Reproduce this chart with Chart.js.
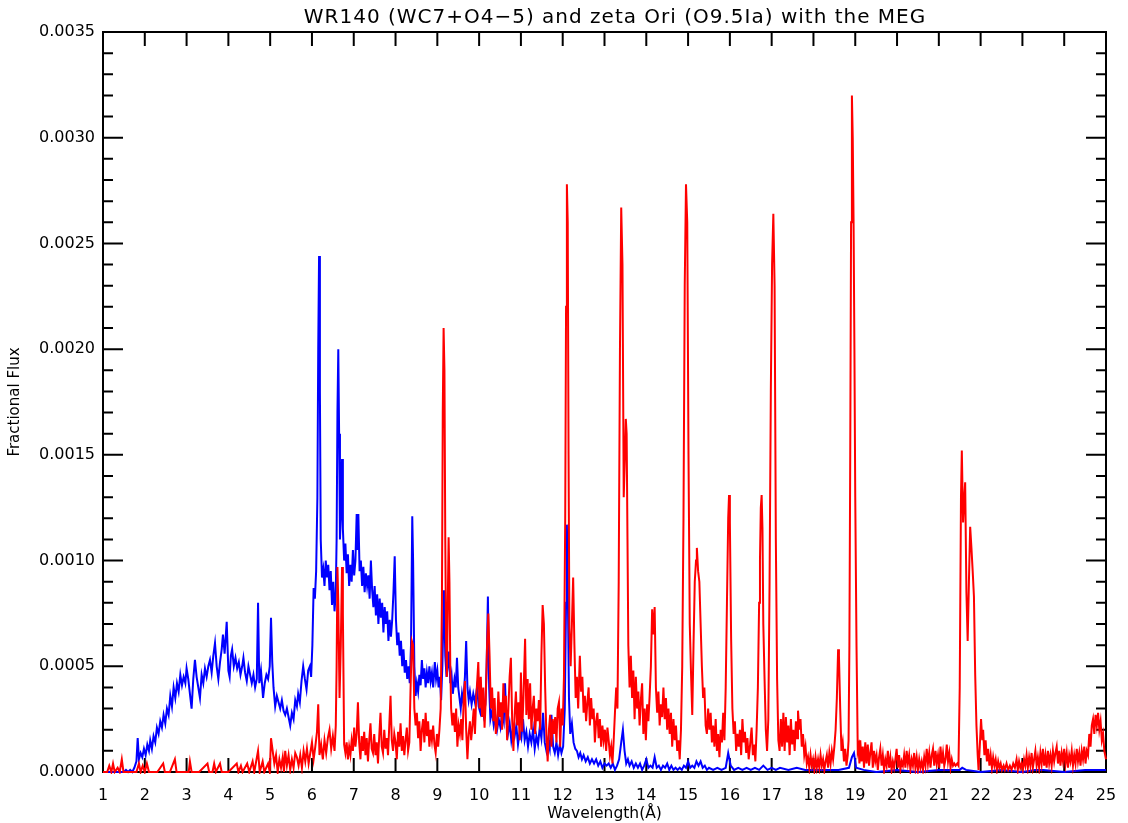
<!DOCTYPE html>
<html>
<head>
<meta charset="utf-8">
<title>WR140 and zeta Ori with the MEG</title>
<script src="https://cdn.jsdelivr.net/npm/chart.js@4.4.1/dist/chart.umd.min.js"></script>
<style>
  html, body { margin: 0; padding: 0; background: #fff; }
  canvas { display: block; }
</style>
</head>
<body>
<canvas id="spectrumChart" width="1128" height="823"></canvas>
<script>
// Axis ticks
const xTicks = [1, 2, 3, 4, 5, 6, 7, 8, 9, 10, 11, 12, 13, 14, 15, 16, 17, 18, 19, 20, 21, 22, 23, 24, 25];
const yTicks = [0, 0.0005, 0.0010, 0.0015, 0.0020, 0.0025, 0.0030, 0.0035];
const yTickLabels = ['0.0000', '0.0005', '0.0010', '0.0015', '0.0020', '0.0025', '0.0030', '0.0035'];
const chartTitle = 'WR140 (WC7+O4\u22125) and zeta Ori (O9.5Ia) with the MEG';

// WR140 (blue) - [wavelength (A), fractional flux]
const wr140 = [
  [1.00, 0], [1.50, 0], [1.55, 0.00001], [1.60, 0], [1.65, 0.00001], [1.70, 0], [1.75, 0.00002], [1.80, 0.00005],
  [1.83, 0.00016], [1.86, 0.00006], [1.90, 0.00009], [1.94, 0.00007], [1.98, 0.00011], [2.02, 0.00008], [2.06, 0.00013],
  [2.10, 0.00010], [2.13, 0.00015], [2.17, 0.00011], [2.21, 0.00017], [2.25, 0.00014], [2.29, 0.00021], [2.33, 0.00018],
  [2.37, 0.00024], [2.41, 0.00021], [2.45, 0.00027], [2.49, 0.00023], [2.53, 0.00030], [2.57, 0.00027], [2.61, 0.00036],
  [2.65, 0.00031], [2.69, 0.00040], [2.73, 0.00035], [2.77, 0.00042], [2.81, 0.00038], [2.85, 0.00046], [2.89, 0.00041],
  [2.93, 0.00045], [2.97, 0.00042], [3.00, 0.00049], [3.04, 0.00044], [3.08, 0.00037], [3.12, 0.00030], [3.16, 0.00044],
  [3.20, 0.00053], [3.24, 0.00045], [3.28, 0.00040], [3.32, 0.00035], [3.36, 0.00046], [3.40, 0.00042], [3.44, 0.00049],
  [3.48, 0.00045], [3.52, 0.00050], [3.56, 0.00053], [3.60, 0.00047], [3.64, 0.00055], [3.68, 0.00061], [3.72, 0.00050],
  [3.76, 0.00044], [3.80, 0.00052], [3.84, 0.00058], [3.87, 0.00065], [3.91, 0.00056], [3.96, 0.00071], [4.00, 0.00048],
  [4.03, 0.00045], [4.06, 0.00055], [4.09, 0.00058], [4.13, 0.00050], [4.17, 0.00054], [4.21, 0.00049], [4.25, 0.00052],
  [4.29, 0.00046], [4.33, 0.00050], [4.36, 0.00054], [4.40, 0.00047], [4.44, 0.00043], [4.48, 0.00050], [4.52, 0.00046],
  [4.56, 0.00042], [4.60, 0.00046], [4.64, 0.00040], [4.68, 0.00044], [4.71, 0.00080], [4.74, 0.00042], [4.78, 0.00048],
  [4.83, 0.00035], [4.87, 0.00042], [4.91, 0.00046], [4.95, 0.00044], [4.99, 0.00050], [5.02, 0.00073], [5.05, 0.00052],
  [5.08, 0.00040], [5.12, 0.00031], [5.16, 0.00036], [5.20, 0.00033], [5.24, 0.00030], [5.28, 0.00034], [5.32, 0.00029],
  [5.36, 0.00027], [5.40, 0.00030], [5.44, 0.00026], [5.48, 0.00022], [5.52, 0.00028], [5.56, 0.00025], [5.60, 0.00034],
  [5.64, 0.00031], [5.67, 0.00037], [5.71, 0.00033], [5.75, 0.00043], [5.79, 0.00050], [5.83, 0.00044], [5.87, 0.00039],
  [5.91, 0.00048], [5.95, 0.00050], [5.98, 0.00045], [6.01, 0.00060], [6.04, 0.00087], [6.07, 0.00082], [6.10, 0.00095],
  [6.13, 0.00130], [6.15, 0.00200], [6.17, 0.00244], [6.19, 0.00180], [6.21, 0.00110], [6.24, 0.00092], [6.27, 0.00096],
  [6.30, 0.00088], [6.33, 0.00100], [6.36, 0.00092], [6.39, 0.00098], [6.42, 0.00086], [6.45, 0.00095], [6.48, 0.00079],
  [6.51, 0.00090], [6.54, 0.00076], [6.57, 0.00085], [6.59, 0.00110], [6.61, 0.00170], [6.63, 0.00200], [6.65, 0.00160],
  [6.67, 0.00110], [6.69, 0.00120], [6.72, 0.00148], [6.74, 0.00115], [6.77, 0.00100], [6.80, 0.00108], [6.83, 0.00094],
  [6.86, 0.00103], [6.89, 0.00088], [6.92, 0.00098], [6.95, 0.00090], [6.98, 0.00105], [7.01, 0.00093], [7.04, 0.00100],
  [7.07, 0.00122], [7.09, 0.00105], [7.11, 0.00122], [7.14, 0.00095], [7.17, 0.00100], [7.20, 0.00088], [7.23, 0.00097],
  [7.26, 0.00085], [7.29, 0.00094], [7.32, 0.00088], [7.35, 0.00093], [7.38, 0.00082], [7.41, 0.00100], [7.44, 0.00086],
  [7.47, 0.00078], [7.50, 0.00088], [7.53, 0.00074], [7.56, 0.00084], [7.59, 0.00070], [7.62, 0.00082], [7.65, 0.00073],
  [7.68, 0.00080], [7.71, 0.00066], [7.74, 0.00078], [7.77, 0.00070], [7.80, 0.00076], [7.83, 0.00062], [7.86, 0.00072],
  [7.89, 0.00064], [7.92, 0.00072], [7.95, 0.00085], [7.98, 0.00102], [8.01, 0.00072], [8.04, 0.00060], [8.07, 0.00066],
  [8.10, 0.00055], [8.13, 0.00062], [8.16, 0.00050], [8.19, 0.00058], [8.22, 0.00047], [8.25, 0.00053], [8.28, 0.00044],
  [8.31, 0.00050], [8.34, 0.00042], [8.37, 0.00060], [8.40, 0.00121], [8.42, 0.00100], [8.45, 0.00050], [8.48, 0.00036],
  [8.51, 0.00042], [8.54, 0.00038], [8.57, 0.00046], [8.60, 0.00041], [8.63, 0.00053], [8.66, 0.00044], [8.69, 0.00049],
  [8.72, 0.00040], [8.75, 0.00047], [8.78, 0.00042], [8.81, 0.00050], [8.84, 0.00043], [8.87, 0.00047], [8.90, 0.00040],
  [8.94, 0.00052], [8.97, 0.00044], [9.00, 0.00048], [9.03, 0.00040], [9.06, 0.00045], [9.09, 0.00034], [9.12, 0.00050],
  [9.16, 0.00086], [9.19, 0.00055], [9.22, 0.00045], [9.25, 0.00050], [9.28, 0.00057], [9.31, 0.00042], [9.34, 0.00046],
  [9.37, 0.00037], [9.41, 0.00044], [9.44, 0.00040], [9.47, 0.00054], [9.50, 0.00040], [9.53, 0.00035], [9.56, 0.00030],
  [9.59, 0.00037], [9.62, 0.00033], [9.66, 0.00045], [9.69, 0.00062], [9.72, 0.00040], [9.75, 0.00034], [9.78, 0.00038],
  [9.82, 0.00032], [9.86, 0.00037], [9.90, 0.00033], [9.95, 0.00040], [9.99, 0.00031], [10.03, 0.00028], [10.07, 0.00033],
  [10.11, 0.00027], [10.15, 0.00032], [10.18, 0.00050], [10.21, 0.00083], [10.24, 0.00040], [10.27, 0.00025], [10.31, 0.00029],
  [10.35, 0.00022], [10.39, 0.00026], [10.43, 0.00020], [10.47, 0.00025], [10.51, 0.00021], [10.55, 0.00028], [10.59, 0.00024],
  [10.62, 0.00042], [10.65, 0.00025], [10.69, 0.00018], [10.73, 0.00023], [10.77, 0.00015], [10.81, 0.00021], [10.85, 0.00017],
  [10.89, 0.00022], [10.93, 0.00013], [10.97, 0.00019], [11.01, 0.00016], [11.05, 0.00025], [11.09, 0.00015], [11.13, 0.00019],
  [11.17, 0.00012], [11.21, 0.00018], [11.25, 0.00014], [11.29, 0.00020], [11.33, 0.00011], [11.37, 0.00017], [11.41, 0.00013],
  [11.45, 0.00021], [11.49, 0.00016], [11.53, 0.00028], [11.57, 0.00014], [11.61, 0.00010], [11.65, 0.00015], [11.69, 0.00011],
  [11.73, 0.00027], [11.77, 0.00012], [11.81, 0.00009], [11.85, 0.00014], [11.89, 0.00008], [11.93, 0.00013], [11.97, 0.00009],
  [12.01, 0.00012], [12.05, 0.00030], [12.08, 0.00080], [12.10, 0.00117], [12.12, 0.00090], [12.15, 0.00035], [12.18, 0.00018],
  [12.22, 0.00023], [12.26, 0.00014], [12.30, 0.00011], [12.34, 0.00010], [12.38, 0.00007], [12.42, 0.00009], [12.46, 0.00006],
  [12.50, 0.00008], [12.55, 0.00005], [12.60, 0.00007], [12.65, 0.00004], [12.70, 0.00006], [12.75, 0.00004], [12.80, 0.00006],
  [12.85, 0.00003], [12.90, 0.00005], [12.95, 0.00002], [13.00, 0.00004], [13.05, 0.00003], [13.10, 0.00004], [13.15, 0.00002],
  [13.20, 0.00004], [13.25, 0.00001], [13.30, 0.00003], [13.35, 0.00006], [13.40, 0.00014], [13.44, 0.00020], [13.48, 0.00010],
  [13.52, 0.00004], [13.56, 0.00006], [13.60, 0.00003], [13.65, 0.00005], [13.70, 0.00002], [13.75, 0.00004], [13.80, 0.00002],
  [13.85, 0.00004], [13.90, 0.00001], [13.95, 0.00003], [14.00, 0.00006], [14.05, 0.00002], [14.10, 0.00003], [14.15, 0.00002],
  [14.20, 0.00007], [14.25, 0.00002], [14.30, 0.00003], [14.35, 0.00001], [14.40, 0.00003], [14.45, 0.00002], [14.50, 0.00004],
  [14.55, 0.00001], [14.60, 0.00003], [14.65, 0.00001], [14.70, 0.00002], [14.75, 0.00001], [14.80, 0.00002], [14.85, 0.00001],
  [14.90, 0.00003], [14.95, 0.00002], [15.00, 0.00005], [15.05, 0.00002], [15.10, 0.00003], [15.15, 0.00002], [15.20, 0.00005],
  [15.25, 0.00003], [15.30, 0.00005], [15.35, 0.00002], [15.40, 0.00003], [15.45, 0.00001], [15.50, 0.00002], [15.60, 0.00001],
  [15.70, 0.00002], [15.80, 0.00001], [15.90, 0.00002], [15.96, 0.00009], [16.02, 0.00003], [16.10, 0.00001], [16.20, 0.00002],
  [16.30, 0.00001], [16.40, 0.00002], [16.50, 0.00001], [16.60, 0.00002], [16.70, 0.00001], [16.80, 0.00003], [16.90, 0.00001],
  [17.00, 0.00002], [17.10, 0.00001], [17.20, 0.00002], [17.40, 0.00001], [17.60, 0.00002], [17.80, 0.00001], [18.00, 0.00001],
  [18.30, 0.00001], [18.60, 0.00001], [18.85, 0.00002], [18.92, 0.00007], [18.97, 0.00009], [19.02, 0.00002], [19.20, 0.00001],
  [19.50, 0], [20.00, 0.00001], [20.50, 0], [21.00, 0.00001], [21.50, 0.00001], [21.56, 0.00002], [21.65, 0.00001], [22.00, 0],
  [22.50, 0.00001], [23.00, 0], [23.30, 0.00001], [23.50, 0.00001], [24.00, 0], [24.50, 0.00001], [24.80, 0.00001], [25.00, 0.00001]
];

// zeta Ori (red) - [wavelength (A), fractional flux]
const zetaOri = [
  [1.00, 0], [1.10, 0], [1.15, 0.00003], [1.20, 0], [1.24, 0.00004], [1.28, 0], [1.35, 0.00002], [1.40, 0], [1.45, 0.00006],
  [1.49, 0], [1.60, 0], [1.70, 0], [1.80, 0], [1.86, 0.00004], [1.90, 0], [1.95, 0.00003], [2.00, 0], [2.05, 0.00004], [2.10, 0],
  [2.20, 0], [2.30, 0], [2.44, 0.00004], [2.48, 0], [2.60, 0], [2.72, 0.00006], [2.76, 0], [2.90, 0], [3.05, 0], [3.08, 0.00005],
  [3.12, 0], [3.30, 0], [3.50, 0.00004], [3.54, 0], [3.62, 0], [3.66, 0.00004], [3.70, 0], [3.80, 0.00004], [3.84, 0], [4.00, 0],
  [4.20, 0.00004], [4.24, 0], [4.30, 0.00003], [4.34, 0], [4.45, 0.00004], [4.50, 0], [4.58, 0.00005], [4.62, 0], [4.71, 0.00010],
  [4.75, 0], [4.82, 0.00005], [4.86, 0], [4.95, 0.00004], [4.99, 0], [5.02, 0.00016], [5.06, 0.00010], [5.10, 0.00004],
  [5.14, 0.00008], [5.18, 0], [5.22, 0.00006], [5.26, 0.00002], [5.30, 0.00007], [5.33, 0], [5.36, 0.00010], [5.40, 0.00003],
  [5.44, 0.00008], [5.48, 0.00001], [5.52, 0.00006], [5.56, 0.00002], [5.60, 0.00009], [5.64, 0.00007], [5.68, 0.00003],
  [5.72, 0.00008], [5.76, 0.00002], [5.80, 0.00010], [5.84, 0.00005], [5.88, 0.00011], [5.92, 0.00004], [5.96, 0.00009],
  [6.00, 0.00014], [6.04, 0.00006], [6.08, 0.00012], [6.12, 0.00019], [6.15, 0.00032], [6.18, 0.00008], [6.22, 0.00013],
  [6.26, 0.00006], [6.30, 0.00015], [6.34, 0.00009], [6.38, 0.00016], [6.42, 0.00020], [6.46, 0.00011], [6.50, 0.00017],
  [6.54, 0.00010], [6.57, 0.00022], [6.59, 0.00050], [6.61, 0.00097], [6.63, 0.00080], [6.66, 0.00035], [6.69, 0.00060],
  [6.72, 0.00097], [6.74, 0.00075], [6.77, 0.00013], [6.80, 0.00009], [6.83, 0.00014], [6.86, 0.00006], [6.89, 0.00012],
  [6.92, 0.00008], [6.95, 0.00015], [6.98, 0.00010], [7.01, 0.00021], [7.04, 0.00012], [7.07, 0.00018], [7.10, 0.00033],
  [7.13, 0.00014], [7.16, 0.00006], [7.19, 0.00017], [7.22, 0.00010], [7.25, 0.00019], [7.28, 0.00008], [7.31, 0.00016],
  [7.34, 0.00005], [7.37, 0.00015], [7.40, 0.00023], [7.43, 0.00011], [7.46, 0.00009], [7.49, 0.00018], [7.52, 0.00008],
  [7.55, 0.00014], [7.58, 0.00004], [7.61, 0.00017], [7.64, 0.00028], [7.67, 0.00012], [7.70, 0.00009], [7.73, 0.00020],
  [7.76, 0.00011], [7.79, 0.00016], [7.82, 0.00008], [7.85, 0.00022], [7.88, 0.00036], [7.91, 0.00015], [7.94, 0.00010],
  [7.97, 0.00018], [8.00, 0.00014], [8.03, 0.00006], [8.06, 0.00019], [8.09, 0.00012], [8.12, 0.00023], [8.15, 0.00010],
  [8.18, 0.00017], [8.21, 0.00008], [8.24, 0.00015], [8.27, 0.00021], [8.30, 0.00010], [8.33, 0.00014], [8.36, 0.00040],
  [8.39, 0.00062], [8.42, 0.00060], [8.45, 0.00030], [8.48, 0.00022], [8.51, 0.00028], [8.54, 0.00016], [8.57, 0.00024],
  [8.60, 0.00010], [8.63, 0.00020], [8.66, 0.00025], [8.69, 0.00014], [8.72, 0.00028], [8.75, 0.00017], [8.78, 0.00024],
  [8.81, 0.00012], [8.84, 0.00020], [8.87, 0.00015], [8.90, 0.00022], [8.93, 0.00013], [8.96, 0.00009], [8.99, 0.00018],
  [9.02, 0.00012], [9.05, 0.00020], [9.08, 0.00030], [9.11, 0.00080], [9.13, 0.00170], [9.15, 0.00210], [9.17, 0.00190],
  [9.19, 0.00110], [9.21, 0.00060], [9.23, 0.00045], [9.25, 0.00080], [9.27, 0.00111], [9.29, 0.00090], [9.31, 0.00050],
  [9.33, 0.00030], [9.36, 0.00022], [9.39, 0.00028], [9.42, 0.00019], [9.45, 0.00030], [9.48, 0.00012], [9.51, 0.00022],
  [9.54, 0.00018], [9.57, 0.00025], [9.60, 0.00015], [9.63, 0.00034], [9.66, 0.00043], [9.69, 0.00020], [9.72, 0.00006],
  [9.75, 0.00018], [9.78, 0.00024], [9.81, 0.00015], [9.84, 0.00022], [9.87, 0.00030], [9.90, 0.00018], [9.93, 0.00035],
  [9.96, 0.00045], [9.98, 0.00052], [10.01, 0.00030], [10.04, 0.00045], [10.07, 0.00026], [10.10, 0.00040], [10.13, 0.00021],
  [10.16, 0.00035], [10.19, 0.00060], [10.22, 0.00075], [10.25, 0.00055], [10.28, 0.00030], [10.31, 0.00040], [10.34, 0.00024],
  [10.37, 0.00035], [10.40, 0.00018], [10.43, 0.00022], [10.46, 0.00038], [10.49, 0.00026], [10.52, 0.00033], [10.55, 0.00020],
  [10.58, 0.00042], [10.61, 0.00028], [10.64, 0.00036], [10.67, 0.00015], [10.70, 0.00030], [10.73, 0.00045], [10.76, 0.00054],
  [10.79, 0.00025], [10.82, 0.00010], [10.85, 0.00027], [10.88, 0.00038], [10.91, 0.00022], [10.94, 0.00033], [10.97, 0.00015],
  [11.00, 0.00047], [11.03, 0.00019], [11.06, 0.00035], [11.10, 0.00063], [11.13, 0.00027], [11.16, 0.00044], [11.19, 0.00025],
  [11.22, 0.00042], [11.25, 0.00020], [11.28, 0.00030], [11.31, 0.00036], [11.34, 0.00018], [11.37, 0.00030], [11.40, 0.00024],
  [11.43, 0.00034], [11.46, 0.00020], [11.49, 0.00055], [11.52, 0.00079], [11.55, 0.00070], [11.58, 0.00040], [11.61, 0.00017],
  [11.64, 0.00005], [11.67, 0.00020], [11.70, 0.00027], [11.73, 0.00012], [11.76, 0.00025], [11.79, 0.00018], [11.82, 0.00026],
  [11.85, 0.00014], [11.88, 0.00030], [11.91, 0.00033], [11.94, 0.00012], [11.97, 0.00030], [12.00, 0.00022], [12.03, 0.00045],
  [12.06, 0.00120], [12.08, 0.00220], [12.10, 0.00278], [12.12, 0.00260], [12.14, 0.00150], [12.16, 0.00068], [12.19, 0.00050],
  [12.22, 0.00070], [12.25, 0.00092], [12.28, 0.00060], [12.31, 0.00035], [12.34, 0.00045], [12.37, 0.00030], [12.41, 0.00055],
  [12.44, 0.00038], [12.47, 0.00045], [12.50, 0.00028], [12.53, 0.00036], [12.56, 0.00024], [12.59, 0.00033], [12.62, 0.00040],
  [12.65, 0.00022], [12.68, 0.00035], [12.71, 0.00025], [12.74, 0.00030], [12.77, 0.00014], [12.80, 0.00024], [12.83, 0.00028],
  [12.86, 0.00016], [12.89, 0.00025], [12.92, 0.00012], [12.95, 0.00022], [12.98, 0.00015], [13.01, 0.00020], [13.04, 0.00010],
  [13.07, 0.00021], [13.10, 0.00015], [13.13, 0.00008], [13.16, 0.00012], [13.19, 0.00004], [13.22, 0.00015], [13.25, 0.00028],
  [13.28, 0.00040], [13.31, 0.00030], [13.34, 0.00090], [13.37, 0.00200], [13.40, 0.00267], [13.43, 0.00240], [13.46, 0.00130],
  [13.49, 0.00150], [13.51, 0.00167], [13.53, 0.00160], [13.55, 0.00110], [13.57, 0.00060], [13.60, 0.00040], [13.63, 0.00055],
  [13.66, 0.00035], [13.69, 0.00048], [13.72, 0.00025], [13.75, 0.00045], [13.78, 0.00030], [13.81, 0.00038], [13.84, 0.00022],
  [13.87, 0.00034], [13.90, 0.00042], [13.93, 0.00018], [13.96, 0.00030], [13.99, 0.00015], [14.02, 0.00032], [14.05, 0.00024],
  [14.08, 0.00036], [14.11, 0.00050], [14.14, 0.00077], [14.17, 0.00065], [14.20, 0.00078], [14.23, 0.00040], [14.26, 0.00028],
  [14.29, 0.00038], [14.32, 0.00022], [14.35, 0.00032], [14.38, 0.00026], [14.41, 0.00040], [14.44, 0.00025], [14.47, 0.00035],
  [14.50, 0.00020], [14.53, 0.00030], [14.56, 0.00018], [14.59, 0.00028], [14.62, 0.00012], [14.65, 0.00025], [14.68, 0.00015],
  [14.71, 0.00022], [14.74, 0.00010], [14.77, 0.00015], [14.80, 0.00006], [14.83, 0.00020], [14.86, 0.00050], [14.89, 0.00120],
  [14.92, 0.00230], [14.95, 0.00278], [14.98, 0.00260], [15.01, 0.00150], [15.04, 0.00070], [15.07, 0.00047], [15.10, 0.00027],
  [15.13, 0.00060], [15.16, 0.00090], [15.19, 0.00100], [15.21, 0.00106], [15.24, 0.00095], [15.27, 0.00090], [15.30, 0.00070],
  [15.33, 0.00050], [15.36, 0.00035], [15.39, 0.00040], [15.42, 0.00022], [15.45, 0.00018], [15.48, 0.00030], [15.51, 0.00020],
  [15.54, 0.00028], [15.57, 0.00014], [15.60, 0.00022], [15.63, 0.00012], [15.66, 0.00025], [15.69, 0.00010], [15.72, 0.00018],
  [15.75, 0.00007], [15.78, 0.00020], [15.81, 0.00014], [15.84, 0.00028], [15.87, 0.00015], [15.90, 0.00040], [15.93, 0.00080],
  [15.96, 0.00120], [15.98, 0.00131], [16.00, 0.00118], [16.03, 0.00063], [16.06, 0.00030], [16.09, 0.00018], [16.12, 0.00024],
  [16.15, 0.00010], [16.18, 0.00018], [16.21, 0.00012], [16.24, 0.00020], [16.27, 0.00008], [16.30, 0.00025], [16.33, 0.00014],
  [16.36, 0.00019], [16.39, 0.00009], [16.42, 0.00016], [16.45, 0.00006], [16.48, 0.00012], [16.52, 0.00021], [16.55, 0.00008],
  [16.58, 0.00013], [16.61, 0.00005], [16.64, 0.00020], [16.67, 0.00040], [16.70, 0.00080], [16.72, 0.00100], [16.74, 0.00125],
  [16.76, 0.00131], [16.78, 0.00115], [16.80, 0.00070], [16.83, 0.00044], [16.86, 0.00020], [16.89, 0.00010], [16.92, 0.00025],
  [16.95, 0.00090], [16.98, 0.00180], [17.01, 0.00240], [17.04, 0.00264], [17.07, 0.00230], [17.10, 0.00110], [17.13, 0.00044],
  [17.16, 0.00015], [17.19, 0.00010], [17.22, 0.00025], [17.25, 0.00012], [17.28, 0.00028], [17.31, 0.00010], [17.34, 0.00026],
  [17.37, 0.00014], [17.40, 0.00022], [17.43, 0.00008], [17.46, 0.00025], [17.49, 0.00013], [17.52, 0.00020], [17.55, 0.00010],
  [17.58, 0.00024], [17.61, 0.00016], [17.63, 0.00029], [17.66, 0.00020], [17.69, 0.00025], [17.72, 0.00012], [17.75, 0.00018],
  [17.78, 0.00008], [17.81, 0.00012], [17.84, 0.00004], [17.87, 0.00007], [17.90, 0.00002], [17.93, 0.00008], [17.96, 0.00003],
  [17.99, 0.00006], [18.02, 0.00001], [18.05, 0.00007], [18.08, 0.00002], [18.11, 0.00006], [18.14, 0.00002], [18.17, 0.00008],
  [18.20, 0.00003], [18.23, 0.00006], [18.26, 0.00001], [18.29, 0.00005], [18.32, 0.00008], [18.35, 0.00002], [18.38, 0.00009],
  [18.41, 0.00004], [18.44, 0.00010], [18.47, 0.00006], [18.50, 0.00012], [18.53, 0.00020], [18.56, 0.00035], [18.59, 0.00058],
  [18.61, 0.00055], [18.64, 0.00030], [18.67, 0.00010], [18.70, 0.00014], [18.73, 0.00005], [18.76, 0.00011], [18.79, 0.00003],
  [18.82, 0.00008], [18.84, 0.00015], [18.86, 0.00060], [18.88, 0.00150], [18.90, 0.00260], [18.92, 0.00320], [18.94, 0.00300],
  [18.96, 0.00260], [18.98, 0.00200], [19.00, 0.00130], [19.03, 0.00060], [19.06, 0.00010], [19.08, 0.00012], [19.10, 0.00004],
  [19.12, 0.00015], [19.15, 0.00005], [19.18, 0.00012], [19.21, 0.00002], [19.24, 0.00014], [19.27, 0.00004], [19.30, 0.00013],
  [19.33, 0.00003], [19.36, 0.00009], [19.39, 0.00014], [19.42, 0.00002], [19.45, 0.00010], [19.48, 0.00005], [19.51, 0.00008],
  [19.54, 0.00001], [19.57, 0.00007], [19.60, 0.00011], [19.63, 0.00003], [19.66, 0.00008], [19.69, 0.00001], [19.72, 0.00006],
  [19.75, 0.00003], [19.78, 0.00010], [19.81, 0.00002], [19.84, 0.00007], [19.87, 0.00001], [19.90, 0.00005], [19.93, 0.00002],
  [19.96, 0.00006], [19.99, 0.00011], [20.02, 0.00002], [20.05, 0.00008], [20.08, 0.00001], [20.11, 0.00005], [20.14, 0.00003],
  [20.17, 0.00008], [20.20, 0.00002], [20.23, 0.00010], [20.26, 0.00004], [20.29, 0.00008], [20.32, 0.00001], [20.35, 0.00006],
  [20.38, 0.00003], [20.41, 0.00009], [20.44, 0.00002], [20.47, 0.00007], [20.50, 0.00001], [20.53, 0.00006], [20.56, 0.00002],
  [20.59, 0.00005], [20.62, 0.00001], [20.65, 0.00007], [20.68, 0.00003], [20.71, 0.00011], [20.74, 0.00004], [20.77, 0.00009],
  [20.80, 0.00002], [20.83, 0.00008], [20.86, 0.00011], [20.89, 0.00003], [20.92, 0.00010], [20.95, 0.00004], [20.98, 0.00008],
  [21.01, 0.00002], [21.04, 0.00012], [21.07, 0.00004], [21.10, 0.00009], [21.13, 0.00003], [21.16, 0.00006], [21.19, 0.00013],
  [21.22, 0.00005], [21.25, 0.00009], [21.28, 0.00002], [21.31, 0.00006], [21.34, 0.00003], [21.37, 0.00004], [21.40, 0.00003],
  [21.44, 0.00004], [21.47, 0.00003], [21.50, 0.00040], [21.53, 0.00130], [21.55, 0.00152], [21.58, 0.00118], [21.61, 0.00130],
  [21.63, 0.00137], [21.66, 0.00085], [21.69, 0.00062], [21.72, 0.00090], [21.75, 0.00116], [21.78, 0.00106], [21.81, 0.00095],
  [21.84, 0.00083], [21.87, 0.00046], [21.90, 0.00022], [21.93, 0.00008], [21.95, 0.00001], [21.98, 0.00012], [22.01, 0.00025],
  [22.04, 0.00015], [22.06, 0.00020], [22.09, 0.00008], [22.12, 0.00015], [22.15, 0.00005], [22.18, 0.00011], [22.21, 0.00003],
  [22.24, 0.00008], [22.27, 0.00002], [22.30, 0.00007], [22.33, 0.00003], [22.36, 0.00006], [22.39, 0.00001], [22.42, 0.00005],
  [22.45, 0.00002], [22.48, 0.00004], [22.51, 0.00001], [22.55, 0.00003], [22.58, 0.00001], [22.62, 0.00004], [22.66, 0.00001],
  [22.70, 0.00003], [22.74, 0.00001], [22.78, 0.00004], [22.82, 0.00002], [22.86, 0.00006], [22.89, 0.00001], [22.92, 0.00005],
  [22.95, 0.00002], [22.98, 0.00004], [23.01, 0.00001], [23.04, 0.00006], [23.07, 0.00003], [23.10, 0.00008], [23.13, 0.00002],
  [23.16, 0.00007], [23.19, 0.00003], [23.22, 0.00009], [23.25, 0.00002], [23.28, 0.00006], [23.31, 0.00010], [23.34, 0.00003],
  [23.37, 0.00007], [23.40, 0.00002], [23.43, 0.00009], [23.46, 0.00004], [23.49, 0.00011], [23.52, 0.00003], [23.55, 0.00008],
  [23.58, 0.00002], [23.61, 0.00010], [23.64, 0.00004], [23.67, 0.00008], [23.70, 0.00003], [23.73, 0.00010], [23.76, 0.00005],
  [23.79, 0.00009], [23.82, 0.00012], [23.85, 0.00004], [23.88, 0.00010], [23.91, 0.00003], [23.94, 0.00009], [23.97, 0.00005],
  [24.00, 0.00011], [24.03, 0.00004], [24.06, 0.00009], [24.09, 0.00002], [24.12, 0.00008], [24.15, 0.00005], [24.18, 0.00010],
  [24.21, 0.00003], [24.24, 0.00008], [24.27, 0.00004], [24.30, 0.00011], [24.33, 0.00005], [24.36, 0.00009], [24.39, 0.00003],
  [24.42, 0.00010], [24.45, 0.00006], [24.48, 0.00012], [24.51, 0.00004], [24.54, 0.00010], [24.57, 0.00008], [24.60, 0.00018],
  [24.63, 0.00012], [24.66, 0.00022], [24.69, 0.00025], [24.72, 0.00018], [24.75, 0.00027], [24.78, 0.00022], [24.81, 0.00028],
  [24.84, 0.00020], [24.87, 0.00024], [24.90, 0.00015], [24.93, 0.00018], [24.96, 0.00010], [25.00, 0.00006]
];

const FONT = "'DejaVu Sans', sans-serif";

// Box frame with inward ticks (IDL style), plus the title
const idlFrame = {
    id: 'idlFrame',
    beforeDatasetsDraw(chart) {
        const { ctx, chartArea: a, scales } = chart;
        const xs = scales.x, ys = scales.y;
        ctx.save();
        ctx.strokeStyle = '#000';
        ctx.lineWidth = 2;
        ctx.strokeRect(a.left, a.top, a.right - a.left, a.bottom - a.top);
        ctx.beginPath();
        xTicks.forEach(v => {
            const px = xs.getPixelForValue(v);
            ctx.moveTo(px, a.bottom); ctx.lineTo(px, a.bottom - 14);
            ctx.moveTo(px, a.top); ctx.lineTo(px, a.top + 14);
        });
        for (let i = 0; i <= 35; i++) {
            const py = ys.getPixelForValue(i * 0.0001);
            const len = (i % 5 === 0) ? 20 : 10;
            ctx.moveTo(a.left, py); ctx.lineTo(a.left + len, py);
            ctx.moveTo(a.right, py); ctx.lineTo(a.right - len, py);
        }
        ctx.stroke();
        ctx.restore();
    },
    afterDraw(chart) {
        const ctx = chart.ctx;
        ctx.save();
        ctx.fillStyle = '#000';
        ctx.font = '20px ' + FONT;
        ctx.letterSpacing = '1px';
        ctx.textAlign = 'center';
        ctx.textBaseline = 'alphabetic';
        ctx.fillText(chartTitle, 615, 23);
        ctx.restore();
    }
};

const ctx = document.getElementById('spectrumChart').getContext('2d');
const spectrumChart = new Chart(ctx, {
    type: 'line',
    data: {
        datasets: [{
            label: 'zeta Ori (O9.5Ia)',
            data: zetaOri.map(p => ({ x: p[0], y: p[1] })),
            borderColor: '#ff0000',
            borderWidth: 2,
            pointRadius: 0,
            tension: 0,
            order: 1,
            clip: 2
        }, {
            label: 'WR140 (WC7+O4-5)',
            data: wr140.map(p => ({ x: p[0], y: p[1] })),
            borderColor: '#0000ff',
            borderWidth: 2,
            pointRadius: 0,
            tension: 0,
            order: 2,
            clip: 2
        }]
    },
    options: {
        responsive: false,
        animation: false,
        layout: { padding: { left: 0, right: 0, top: 32, bottom: 0 } },
        plugins: {
            legend: { display: false },
            tooltip: { enabled: false },
            title: { display: false }
        },
        scales: {
            x: {
                type: 'linear',
                min: 1,
                max: 25,
                afterBuildTicks: s => { s.ticks = xTicks.map(v => ({ value: v })); },
                afterFit: s => { s.height = 51; s.paddingRight = 22; s.paddingLeft = 0; },
                grid: { display: false, drawTicks: false },
                border: { display: false },
                ticks: {
                    color: '#000',
                    font: { family: FONT, size: 16 },
                    padding: 14,
                    maxRotation: 0,
                    autoSkip: false
                },
                title: {
                    display: true,
                    text: 'Wavelength(\u00c5)',
                    color: '#000',
                    font: { family: FONT, size: 15.5 },
                    padding: { top: 0, bottom: 0 }
                }
            },
            y: {
                type: 'linear',
                min: 0,
                max: 0.0035,
                afterBuildTicks: s => { s.ticks = yTicks.map(v => ({ value: v })); },
                afterFit: s => { s.width = 103; },
                grid: { display: false, drawTicks: false },
                border: { display: false },
                ticks: {
                    color: '#000',
                    font: { family: FONT, size: 16 },
                    padding: 8,
                    autoSkip: false,
                    callback: (v, i) => yTickLabels[i]
                },
                title: {
                    display: true,
                    text: 'Fractional Flux',
                    color: '#000',
                    font: { family: FONT, size: 15 },
                    padding: { top: 6, bottom: 0 }
                }
            }
        }
    },
    plugins: [idlFrame]
});
</script>
</body>
</html>
